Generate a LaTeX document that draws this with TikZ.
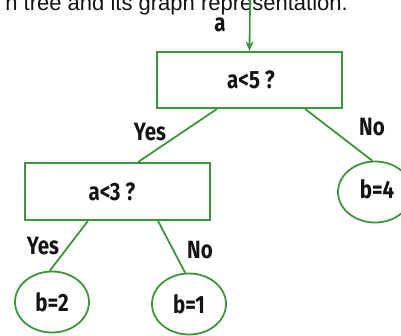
\documentclass[tikz,border=0pt]{standalone}
\usepackage{fontspec}
\setmainfont{Liberation Sans}
\newfontfamily\labfont[FakeStretch=0.82]{Fira Sans}
\usetikzlibrary{shapes.geometric,calc,arrows.meta}
\definecolor{tgreen}{RGB}{62,150,58}
\definecolor{ttext}{RGB}{20,20,20}
\tikzset{
  decbox/.style={draw=tgreen,line width=1.8pt,minimum width=185pt,minimum height=56pt,inner sep=0pt},
  leaf/.style={draw=tgreen,line width=1.8pt,ellipse,minimum width=74pt,minimum height=61pt,inner sep=0pt},
  edge/.style={draw=tgreen,line width=1.8pt},
  lab/.style={font=\labfont\bfseries\fontsize{25}{28}\selectfont,text=ttext,inner sep=0pt},
}
\begin{document}
\begin{tikzpicture}[x=1pt,y=-1pt]
\useasboundingbox (0,0) rectangle (401,335);
\node[anchor=base east,font=\fontsize{22}{26}\selectfont,text=ttext,inner sep=0pt] (cap) at (348,10) {n tree and its graph representation.};
\coordinate (in) at (250,0);
\node[decbox] (b1) at (249.5,80) {};
\node[lab] (t1) at (251,80) {a<5 ?};
\node[decbox,minimum height=57pt] (b2) at (117.5,191.5) {};
\node[lab] (t2) at (112,192) {a<3 ?};
\node[leaf] (l4) at (375,192) {};
\node[lab] (t4) at (377,189) {b=4};
\node[leaf] (l2) at (52,302) {};
\node[lab] (t2b) at (52,302) {b=2};
\node[leaf] (l1) at (189,304) {};
\node[lab] (t1b) at (189,304) {b=1};
\draw[edge,-{Stealth[length=10pt,width=8pt]}] (in) -- (b1.north);
\node[lab] (la) at (220,25) {a};
\draw[edge] ($(b1.south)+(-32.5,0)$) -- ($(b2.north)+(20.5,0)$);
\draw[edge] ($(b1.south)+(55.5,0)$) -- (l4.95);
\draw[edge] ($(b2.south)+(-29.5,0)$) -- (l2.94);
\draw[edge] ($(b2.south)+(40.5,0)$) -- (l1.97);
\node[lab] (y1) at (150,132) {Yes};
\node[lab] (n1) at (372,127) {No};
\node[lab] (y2) at (43,246) {Yes};
\node[lab] (n2) at (200,250) {No};
\end{tikzpicture}
\end{document}
